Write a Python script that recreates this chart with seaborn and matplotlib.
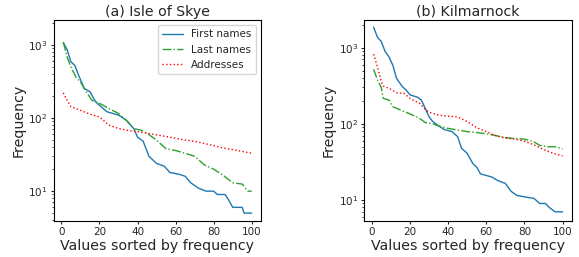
import matplotlib
matplotlib.use("Agg")
import matplotlib.pyplot as plt
import seaborn as sns
import pandas as pd

# values (rank -> frequency)
skye_first_rank = [1, 3, 5, 7, 9, 12, 15, 18, 20, 24, 30, 34, 38, 40, 43, 46, 50, 54, 57, 62, 65, 68,
                   72, 76, 80, 82, 86, 88, 90, 95, 96, 100]
skye_first_freq = [1080, 870, 590, 530, 390, 255, 230, 167, 150, 122, 110, 94, 72, 55, 48, 30, 24, 22, 18, 17, 16, 13,
                   11, 10, 10, 9, 9, 7.5, 6, 6, 5, 5]

skye_last_rank = [1, 3, 5, 8, 10, 13, 16, 20, 25, 30, 35, 38, 42, 45, 50, 55, 60, 65, 70, 75, 80, 85, 90, 95, 98, 100]
skye_last_freq = [1100, 690, 500, 350, 315, 230, 176, 160, 135, 116, 89, 72, 68, 62, 50, 38, 36, 33, 30, 23, 20, 16.5,
                  13, 12.5, 10, 10]

skye_addr_rank = [1, 3, 5, 10, 15, 20, 25, 30, 35, 40, 45, 50, 55, 60, 65, 70, 75, 80, 85, 90, 95, 100]
skye_addr_freq = [222, 176, 143, 128, 113, 104, 80, 72, 68, 65, 62, 59, 56, 53, 50, 48, 45, 42, 39, 37, 35, 33]

kil_first_rank = [1, 3, 5, 7, 9, 11, 13, 16, 18, 20, 24, 26, 28, 30, 32, 35, 38, 42, 45, 47, 50, 53, 55, 57, 60,
                  63, 66, 70, 73, 76, 80, 85, 88, 91, 93, 96, 100]
kil_first_freq = [1850, 1370, 1200, 890, 760, 590, 395, 308, 278, 240, 223, 205, 160, 124, 107, 94, 84, 79, 68, 48,
                  41, 30, 27, 22, 21, 20, 18, 16.5, 13, 11.5, 11, 10.5, 9, 9, 8, 7, 7]

kil_last_rank = [1, 3, 5, 6, 9, 11, 15, 20, 25, 28, 32, 35, 40, 45, 50, 55, 60, 65, 70, 75, 80, 85, 88, 92, 96, 100]
kil_last_freq = [520, 376, 300, 216, 205, 168, 152, 135, 118, 104, 100, 94, 87, 83, 79, 77, 74, 70, 66, 64, 63, 58,
                 52, 50, 50, 47]

kil_addr_rank = [1, 3, 5, 6, 10, 13, 17, 20, 25, 28, 30, 35, 40, 45, 50, 55, 60, 65, 70, 75, 80, 85, 90, 95, 100]
kil_addr_freq = [820, 560, 360, 314, 284, 256, 250, 216, 186, 155, 142, 130, 126, 123, 107, 89, 79, 70, 65, 63, 59,
                 53, 46, 41, 38]

titles = ["(a) Isle of Skye", "(b) Kilmarnock"]
series_names = ["First names", "Last names", "Addresses"]

panels = [
    [(skye_first_rank, skye_first_freq), (skye_last_rank, skye_last_freq), (skye_addr_rank, skye_addr_freq)],
    [(kil_first_rank, kil_first_freq), (kil_last_rank, kil_last_freq), (kil_addr_rank, kil_addr_freq)],
]
styles = [("#1f77b4", "-"), ("#2ca02c", "-."), ("red", ":")]

sns.set_style("ticks")
plt.rcParams["font.family"] = ["DejaVu Sans"]
plt.rcParams.update({
    "xtick.major.size": 2.5, "ytick.major.size": 2.5,
    "xtick.minor.size": 1.5, "ytick.minor.size": 1.5,
    "xtick.major.pad": 2, "ytick.major.pad": 2,
})

fig = plt.figure(figsize=(5.79, 2.57), dpi=100)
axes = [fig.add_axes([0.093, 0.140, 0.358, 0.782]),
        fig.add_axes([0.629, 0.140, 0.359, 0.782])]

for ax, title, panel in zip(axes, titles, panels):
    for (ranks, freqs), name, (col, ls) in zip(panel, series_names, styles):
        df = pd.DataFrame({"rank": ranks, "freq": freqs})
        sns.lineplot(data=df, x="rank", y="freq", ax=ax, color=col, linestyle=ls,
                     linewidth=1.0, label=name)
    ax.set_yscale("log")
    ax.set_title(title, fontsize=10.2, pad=3)
    ax.set_xlabel("Values sorted by frequency", fontsize=10.2, labelpad=1)
    ax.set_ylabel("Frequency", fontsize=10.2, labelpad=2)
    ax.set_xticks([0, 20, 40, 60, 80, 100])
    ax.tick_params(labelsize=7.5)
    for sp in ax.spines.values():
        sp.set_visible(True)
        sp.set_color("black")
        sp.set_linewidth(0.8)

axes[0].set_ylim(3.9, 2200)
axes[1].set_ylim(5.3, 2300)
axes[0].legend(loc="upper right", fontsize=7.5, frameon=True)
axes[1].get_legend().remove()

fig.savefig("out.png", dpi=100)
